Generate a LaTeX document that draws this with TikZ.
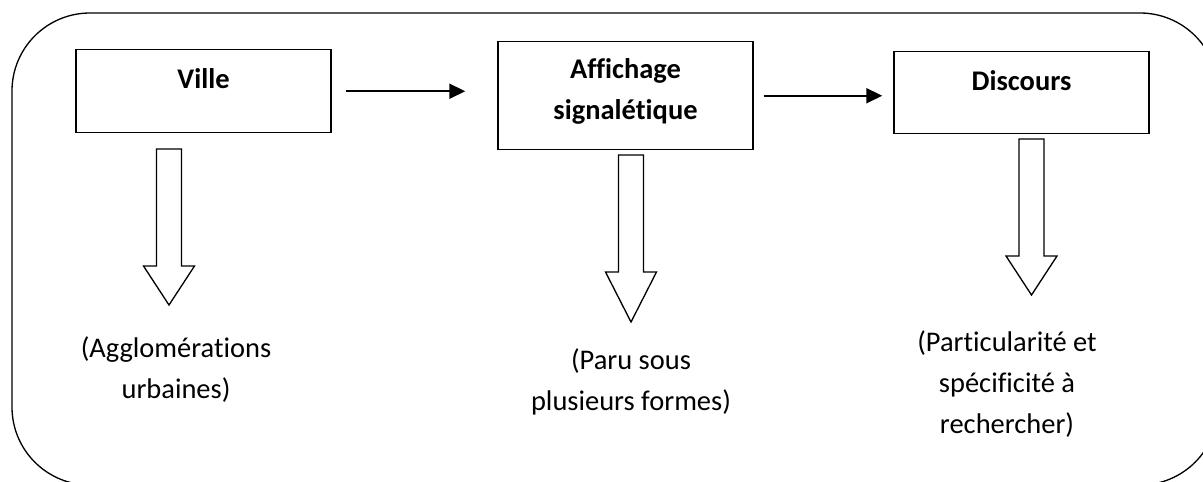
\documentclass[tikz,border=0pt]{standalone}
\usepackage{fontspec}
\setmainfont{Carlito}[Ligatures=NoCommon]
\usetikzlibrary{arrows.meta}

\tikzset{
    titlebox/.style={draw, line width=0.85pt, minimum width=5.1cm, inner sep=0pt, align=center, font=\bfseries},
    note/.style={align=center, inner sep=0pt, text height=0pt, anchor=north},
    flow/.style={line width=1.1pt, -{Triangle[length=0.32cm,width=0.3cm]}},
    hollow/.style={line width=0.75pt},
}
\newcommand{\blockdown}[4]{%
    \draw[hollow] ({#1-12.5},#2) -- ({#1+12.5},#2) -- ({#1+12.5},#3) -- ({#1+25.5},#3)
        -- (#1,#4) -- ({#1-25.5},#3) -- ({#1-12.5},#3) -- cycle;}

\begin{document}
\fontsize{16.2}{23.3}\selectfont
\begin{tikzpicture}[x=0.02cm, y=-0.02cm]
        \useasboundingbox (0,0) rectangle (1203,481);
        \clip (0,0) rectangle (1203,481);
        \draw[hollow, rounded corners=1.56cm] (12,13) rectangle (1218,485);

        \node[titlebox, anchor=north, text height=0.78cm, text depth=0.88cm] (ville) at (203.5,49) {Ville};
        \node[titlebox, anchor=north, text height=1.56cm, text depth=0.6cm] (affichage) at (625.5,41) {Affichage\\signalétique};
        \node[titlebox, anchor=north, text height=0.78cm, text depth=0.86cm] (discours) at (1021.5,51) {Discours};

        \draw[flow, shorten <=0.28cm, shorten >=0.64cm] (ville.east) -- (ville.east -| affichage.west);
        \draw[flow, shorten <=0.2cm, shorten >=0.22cm] (affichage.east) -- (affichage.east -| discours.west);

        \blockdown{169}{149}{266}{305}
        \blockdown{631}{155}{272}{322}
        \blockdown{1031.5}{139}{256}{295}

        \node[note] (agglo) at (176,398) {(Agglomérations\\urbaines)};
        \node[note] (paru) at (631,410) {(Paru sous\\plusieurs formes)};
        \node[note] (partic) at (1007,433) {(Particularité et\\spécificité à\\rechercher)};
    \end{tikzpicture}
\end{document}
